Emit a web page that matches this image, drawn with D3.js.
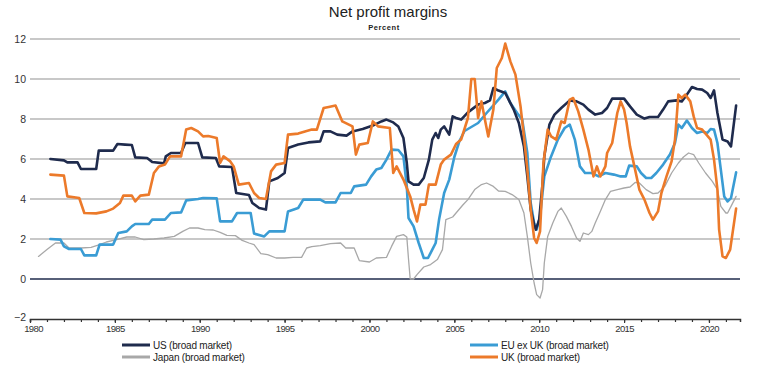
<!DOCTYPE html>
<html>
<head>
<meta charset="utf-8">
<script src="https://cdn.jsdelivr.net/npm/d3@7"></script>
<style>
  html, body { margin: 0; padding: 0; background: #fff; }
  svg { display: block; font-family: "Liberation Sans", Arial, sans-serif; }
</style>
</head>
<body>
<svg id="chart" width="776" height="372"></svg>
<script>
const titleText = "Net profit margins";
const subtitleText = "Percent";
const yTickValues = [-2, 0, 2, 4, 6, 8, 10, 12];
const xMajorTicks = [1980, 1985, 1990, 1995, 2000, 2005, 2010, 2015, 2020];
const xMinorTicks = d3.range(1980, 2022);
const seriesNames = ["US (broad market)", "EU ex UK (broad market)", "Japan (broad market)", "UK (broad market)"];

const usData = [[1981.2,6.0],[1982.0,5.93],[1982.2,5.83],[1982.8,5.83],[1983.0,5.5],[1983.9,5.5],[1984.05,6.42],[1984.9,6.42],[1985.15,6.75],[1985.6,6.72],[1986.0,6.7],[1986.2,6.08],[1986.9,6.05],[1987.2,5.85],[1987.9,5.78],[1988.0,6.13],[1988.3,6.3],[1988.9,6.3],[1989.15,6.8],[1989.9,6.8],[1990.15,6.08],[1990.95,6.05],[1991.15,5.63],[1991.9,5.6],[1992.15,4.3],[1992.9,4.2],[1993.1,3.8],[1993.5,3.55],[1993.9,3.47],[1994.1,4.88],[1994.6,5.05],[1995.0,5.3],[1995.2,6.55],[1995.8,6.72],[1996.4,6.83],[1997.1,6.88],[1997.3,7.38],[1997.7,7.38],[1998.1,7.22],[1998.65,7.17],[1999.0,7.38],[1999.6,7.5],[2000.2,7.67],[2000.7,7.88],[2001.0,7.97],[2001.4,7.83],[2001.7,7.63],[2002.0,7.05],[2002.2,5.8],[2002.3,4.88],[2002.6,4.72],[2002.9,4.72],[2003.2,5.05],[2003.5,5.97],[2003.7,6.97],[2003.9,7.3],[2004.05,7.05],[2004.2,7.47],[2004.4,7.63],[2004.7,7.22],[2004.9,8.13],[2005.1,8.05],[2005.4,7.97],[2005.8,8.33],[2006.4,8.72],[2006.8,8.8],[2007.1,8.93],[2007.3,9.55],[2007.6,9.42],[2008.0,9.3],[2008.5,8.47],[2008.8,7.8],[2009.1,6.63],[2009.3,5.13],[2009.5,3.47],[2009.7,2.72],[2009.8,2.47],[2010.0,2.97],[2010.2,4.8],[2010.3,6.13],[2010.6,7.72],[2010.9,8.22],[2011.3,8.55],[2011.8,8.93],[2012.2,8.88],[2012.6,8.72],[2012.9,8.47],[2013.3,8.22],[2013.7,8.3],[2014.0,8.55],[2014.3,9.02],[2015.0,9.02],[2015.35,8.63],[2015.75,8.22],[2016.2,8.02],[2016.5,8.1],[2017.0,8.1],[2017.3,8.47],[2017.6,8.88],[2018.1,8.93],[2018.4,8.88],[2018.7,9.22],[2019.0,9.6],[2019.3,9.5],[2019.6,9.47],[2019.9,9.3],[2020.1,9.05],[2020.3,9.43],[2020.5,8.3],[2020.8,6.97],[2021.1,6.88],[2021.3,6.63],[2021.6,8.67]];

const euData = [[1981.2,2.0],[1981.8,1.97],[1982.0,1.63],[1982.3,1.5],[1983.0,1.5],[1983.2,1.18],[1983.9,1.18],[1984.1,1.72],[1984.9,1.72],[1985.2,2.3],[1985.7,2.38],[1986.0,2.63],[1986.2,2.75],[1987.0,2.75],[1987.2,2.97],[1987.95,2.97],[1988.3,3.3],[1988.9,3.33],[1989.2,3.93],[1989.9,4.0],[1990.2,4.05],[1991.0,4.03],[1991.2,2.88],[1991.9,2.88],[1992.2,3.3],[1993.0,3.3],[1993.2,2.27],[1993.8,2.13],[1994.1,2.38],[1995.0,2.38],[1995.2,3.38],[1995.8,3.55],[1996.1,3.97],[1997.1,3.97],[1997.4,3.83],[1998.0,3.83],[1998.3,4.3],[1998.9,4.3],[1999.1,4.63],[1999.8,4.72],[2000.1,5.13],[2000.4,5.47],[2000.7,5.55],[2001.0,5.97],[2001.3,6.47],[2001.7,6.45],[2002.0,6.13],[2002.2,4.63],[2002.3,3.05],[2002.6,2.63],[2002.9,1.8],[2003.2,1.05],[2003.45,1.05],[2003.7,1.47],[2003.9,1.8],[2004.1,2.97],[2004.4,4.3],[2004.7,4.97],[2005.0,6.1],[2005.3,6.9],[2005.6,7.4],[2006.0,7.6],[2006.4,7.8],[2006.9,8.3],[2007.6,8.97],[2008.0,9.38],[2008.3,8.8],[2008.7,8.3],[2009.0,7.97],[2009.3,6.3],[2009.5,3.8],[2009.7,2.8],[2009.85,2.47],[2010.05,3.13],[2010.3,5.13],[2010.7,6.13],[2011.1,6.97],[2011.5,7.55],[2011.8,7.72],[2012.1,6.97],[2012.4,5.63],[2012.7,5.3],[2013.1,5.3],[2013.5,5.13],[2013.9,5.3],[2014.4,5.22],[2014.8,5.13],[2015.1,5.13],[2015.3,5.67],[2015.75,5.63],[2016.0,5.3],[2016.3,5.05],[2016.6,5.05],[2016.9,5.3],[2017.3,5.72],[2017.7,6.22],[2018.0,6.8],[2018.2,7.72],[2018.4,7.55],[2018.7,7.92],[2019.0,7.55],[2019.3,7.3],[2019.6,7.38],[2019.9,7.3],[2020.1,7.5],[2020.3,7.47],[2020.5,6.8],[2020.7,5.47],[2020.9,4.13],[2021.1,3.88],[2021.3,4.05],[2021.6,5.33]];

const japanData = [[1980.5,1.13],[1981.0,1.47],[1981.5,1.8],[1982.0,1.8],[1982.3,1.55],[1983.0,1.55],[1983.6,1.58],[1984.1,1.72],[1984.5,1.85],[1985.1,1.97],[1985.7,2.1],[1986.2,2.1],[1986.7,1.97],[1987.3,2.0],[1987.9,2.05],[1988.5,2.13],[1989.0,2.38],[1989.4,2.55],[1989.9,2.55],[1990.3,2.47],[1990.8,2.45],[1991.2,2.33],[1991.6,2.18],[1992.1,2.17],[1992.5,1.93],[1992.9,1.8],[1993.2,1.72],[1993.6,1.27],[1994.0,1.22],[1994.5,1.05],[1995.0,1.05],[1995.5,1.08],[1996.0,1.08],[1996.3,1.55],[1996.6,1.62],[1997.1,1.67],[1997.7,1.77],[1998.3,1.8],[1998.6,1.55],[1999.1,1.55],[1999.4,0.92],[2000.0,0.85],[2000.4,1.05],[2001.0,1.08],[2001.3,1.63],[2001.6,2.13],[2002.0,2.22],[2002.2,2.1],[2002.3,1.0],[2002.4,0.0],[2002.6,0.0],[2002.8,0.22],[2003.2,0.6],[2003.6,0.72],[2004.0,0.97],[2004.3,1.47],[2004.5,2.97],[2004.9,3.1],[2005.2,3.4],[2005.5,3.7],[2005.8,3.97],[2006.2,4.47],[2006.6,4.72],[2006.9,4.8],[2007.3,4.63],[2007.6,4.4],[2008.0,4.38],[2008.4,4.22],[2008.8,3.97],[2009.1,3.3],[2009.3,2.13],[2009.5,0.8],[2009.7,-0.2],[2009.85,-0.78],[2010.05,-0.95],[2010.2,-0.53],[2010.3,0.8],[2010.5,2.13],[2010.8,2.8],[2011.1,3.38],[2011.3,3.55],[2011.6,3.13],[2011.9,2.63],[2012.2,2.05],[2012.4,1.88],[2012.6,2.3],[2012.9,2.22],[2013.1,2.38],[2013.3,2.8],[2013.6,3.38],[2013.9,3.97],[2014.2,4.38],[2014.6,4.47],[2015.0,4.55],[2015.35,4.6],[2015.65,4.83],[2015.9,4.8],[2016.3,4.47],[2016.7,4.27],[2017.0,4.3],[2017.4,4.63],[2017.8,5.3],[2018.2,5.8],[2018.5,6.1],[2018.8,6.3],[2019.1,6.22],[2019.4,5.8],[2019.8,5.3],[2020.2,4.88],[2020.5,4.47],[2020.7,3.63],[2021.0,3.3],[2021.1,3.3],[2021.3,3.63],[2021.6,4.13]];

const ukData = [[1981.2,5.22],[1982.0,5.17],[1982.2,4.13],[1982.9,4.05],[1983.2,3.3],[1983.9,3.28],[1984.5,3.38],[1984.9,3.52],[1985.3,3.8],[1985.5,4.17],[1986.0,4.17],[1986.2,3.88],[1986.5,4.17],[1987.0,4.22],[1987.3,5.3],[1987.6,5.63],[1987.95,5.72],[1988.25,6.13],[1988.9,6.13],[1989.2,7.47],[1989.5,7.55],[1989.9,7.38],[1990.2,7.13],[1990.5,7.15],[1991.0,7.05],[1991.2,5.8],[1991.4,6.13],[1991.8,5.88],[1992.0,5.63],[1992.3,4.72],[1992.9,4.8],[1993.2,4.3],[1993.5,4.05],[1993.9,4.0],[1994.2,5.38],[1994.5,5.72],[1995.0,5.8],[1995.2,7.22],[1995.8,7.27],[1996.2,7.38],[1996.6,7.47],[1996.9,7.47],[1997.3,8.55],[1997.6,8.6],[1998.0,8.67],[1998.4,7.88],[1999.0,7.63],[1999.2,6.22],[1999.4,6.72],[1999.9,6.8],[2000.2,7.88],[2000.5,7.63],[2001.2,7.55],[2001.4,5.3],[2001.6,5.63],[2002.0,4.97],[2002.4,4.13],[2002.6,3.47],[2002.8,2.88],[2003.0,3.72],[2003.3,3.72],[2003.5,4.72],[2003.9,4.72],[2004.2,5.72],[2004.4,5.97],[2004.8,6.22],[2005.1,6.75],[2005.4,6.97],[2005.8,8.05],[2006.0,10.0],[2006.2,10.0],[2006.4,8.05],[2006.6,8.88],[2006.8,7.97],[2007.0,7.13],[2007.3,8.47],[2007.5,10.55],[2007.8,11.05],[2008.0,11.77],[2008.3,10.88],[2008.6,10.22],[2008.9,8.63],[2009.1,7.13],[2009.3,5.47],[2009.5,3.47],[2009.7,2.05],[2009.85,1.8],[2010.05,2.38],[2010.25,5.8],[2010.5,7.47],[2010.7,7.13],[2011.0,6.97],[2011.3,7.88],[2011.5,7.8],[2011.8,8.97],[2012.0,9.05],[2012.3,8.38],[2012.6,7.47],[2012.9,6.47],[2013.2,5.13],[2013.4,5.63],[2013.6,5.13],[2013.9,5.63],[2014.0,6.3],[2014.3,6.8],[2014.6,8.3],[2014.8,8.88],[2015.0,8.47],[2015.15,7.8],[2015.35,6.63],[2015.65,5.47],[2015.9,4.47],[2016.2,3.97],[2016.5,3.3],[2016.7,2.97],[2017.0,3.38],[2017.2,4.3],[2017.5,5.13],[2017.8,5.88],[2018.0,6.97],[2018.2,9.22],[2018.4,9.05],[2018.6,9.22],[2018.9,8.88],[2019.1,8.13],[2019.3,7.55],[2019.6,7.47],[2019.85,7.22],[2020.1,6.97],[2020.3,5.97],[2020.5,4.47],[2020.6,2.47],[2020.8,1.13],[2021.0,1.05],[2021.25,1.47],[2021.6,3.52]];

const svg = d3.select("#chart");
const x = d3.scaleLinear().domain([1980, 2021.83]).range([30, 740]);
const y = d3.scaleLinear().domain([-2, 12]).range([319, 39]);

// Title
svg.append("text").attr("x", 388).attr("y", 17).attr("text-anchor", "middle")
  .attr("font-size", 15).attr("fill", "#222").text(titleText);
svg.append("text").attr("x", 384).attr("y", 30).attr("text-anchor", "middle")
  .attr("font-size", 7.5).attr("font-weight", "bold").attr("letter-spacing", 0.6)
  .attr("fill", "#222").text(subtitleText);

// Gridlines
svg.append("g").selectAll("line").data(yTickValues.filter(v => v > 0)).join("line")
  .attr("x1", x.range()[0]).attr("x2", x.range()[1])
  .attr("y1", d => y(d)).attr("y2", d => y(d))
  .attr("stroke", "#c8c8c8").attr("stroke-width", 2);

// Zero line
svg.append("line").attr("x1", x.range()[0]).attr("x2", x.range()[1])
  .attr("y1", y(0)).attr("y2", y(0)).attr("stroke", "#1f2b4d").attr("stroke-width", 1.6);

// Y labels
const yAxis = svg.append("g").attr("transform", "translate(26,0)")
  .call(d3.axisLeft(y).tickValues(yTickValues).tickSize(0).tickPadding(0));
yAxis.select(".domain").remove();
yAxis.selectAll("text").attr("font-size", 10.5).attr("fill", "#333")
  .attr("font-family", "Liberation Sans, Arial, sans-serif");
yAxis.selectAll(".tick").filter(d => d === -2).select("text").attr("dy", "0.1em");

// X axis
const xAxisMinor = svg.append("g").attr("transform", `translate(0,${y(-2)})`)
  .call(d3.axisBottom(x).tickValues(xMinorTicks).tickSize(3).tickFormat(""));
xAxisMinor.select(".domain").attr("stroke", "#333").attr("stroke-width", 1.5);
xAxisMinor.selectAll(".tick line").attr("stroke", "#333").attr("stroke-width", 1.2);
const xAxisMajor = svg.append("g").attr("transform", `translate(0,${y(-2)})`)
  .call(d3.axisBottom(x).tickValues(xMajorTicks).tickSize(4).tickPadding(2).tickFormat(d3.format("d")));
xAxisMajor.select(".domain").remove();
xAxisMajor.selectAll(".tick line").attr("stroke", "#333").attr("stroke-width", 1.2);
xAxisMajor.selectAll("text").attr("font-size", 9.5).attr("fill", "#333")
  .attr("letter-spacing", -0.6).attr("font-family", "Liberation Sans, Arial, sans-serif");
xAxisMajor.selectAll(".tick").filter(d => d === 1980).select("text").attr("dx", "3px");

// Lines
const line = d3.line().x(d => x(d[0])).y(d => y(d[1])).curve(d3.curveLinear);
const series = [
  { data: japanData, color: "#a8a8a8", width: 1.3 },
  { data: euData, color: "#3a9cd4", width: 2.6 },
  { data: usData, color: "#1f2b4d", width: 2.6 },
  { data: ukData, color: "#ec7a2a", width: 2.6 }
];
svg.append("g").selectAll("path").data(series).join("path")
  .attr("d", d => line(d.data)).attr("fill", "none")
  .attr("stroke", d => d.color).attr("stroke-width", d => d.width)
  .attr("stroke-linejoin", "round").attr("stroke-linecap", "round");

// Legend
const legendItems = [
  { name: seriesNames[0], color: "#1f2b4d", lx: 122, ly: 345 },
  { name: seriesNames[1], color: "#3a9cd4", lx: 470, ly: 345 },
  { name: seriesNames[2], color: "#a8a8a8", lx: 122, ly: 357 },
  { name: seriesNames[3], color: "#ec7a2a", lx: 470, ly: 357 }
];
const lg = svg.append("g").selectAll("g").data(legendItems).join("g")
  .attr("transform", d => `translate(${d.lx},${d.ly})`);
lg.append("line").attr("x1", 0).attr("x2", 28).attr("y1", 0).attr("y2", 0)
  .attr("stroke", d => d.color).attr("stroke-width", 3);
lg.append("text").attr("x", 31).attr("y", 3.5).attr("font-size", 10)
  .attr("fill", "#222").attr("letter-spacing", -0.2).text(d => d.name);
</script>
</body>
</html>
